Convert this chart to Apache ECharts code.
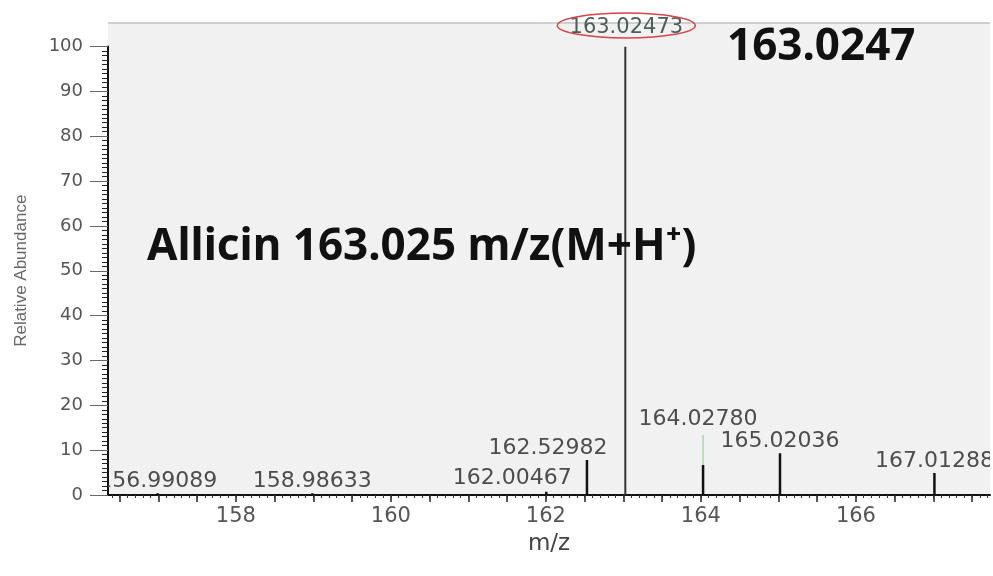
<!DOCTYPE html>
<html><head><meta charset="utf-8">
<script src="https://cdn.jsdelivr.net/npm/echarts@6/dist/echarts.min.js"></script>
<style>html,body{margin:0;padding:0;background:#fff}#c{width:993px;height:576px}</style>
</head><body><div id="c"></div>
<script>
// ---- data ----
const peakMz = [156.99089, 158.98633, 162.00467, 162.52982, 163.02473, 164.02780, 165.02036, 167.01288];
const peakAbundance = [0.4, 0.4, 0.7, 7.8, 100, 6.7, 9.3, 4.9];
const peakLabels = ["156.99089", "158.98633", "162.00467", "162.52982", "163.02473", "164.02780", "165.02036", "167.01288"];
const xTickLabels = [158, 160, 162, 164, 166];
const yTickLabels = [0, 10, 20, 30, 40, 50, 60, 70, 80, 90, 100];
const xRange = [156.35, 167.73];
const yRange = [0, 100];
const xAxisTitle = "m/z";
const yAxisTitle = "Relative Abundance";
const annotationMain = "Allicin 163.025 m/z(M+H\u207A)";
const annotationPeak = "163.0247";

// ---- style (label nudges in px, by peak index) ----
const labelNudge = {2: [-34, -2], 3: [-39, 0], 4: [0, -9], 5: [-5, -34]};
const connectorPeaks = [5];
const topIdx = peakAbundance.indexOf(Math.max(...peakAbundance));

const midTicks = [], smallTicks = [];
for (let k = Math.ceil(xRange[0] * 2); k <= Math.floor(xRange[1] * 2); k++) midTicks.push(k / 2);
for (let k = Math.ceil(xRange[0] * 10); k <= Math.floor(xRange[1] * 10); k++) smallTicks.push(+(k / 10).toFixed(1));

const peakData = peakMz.map((m, i) => [m, peakAbundance[i], i]);

const chart = echarts.init(document.getElementById('c'), null, {renderer: 'canvas'});
const labelFont = {fontFamily: '"DejaVu Sans", sans-serif', fontSize: 22};

chart.setOption({
  animation: false,
  backgroundColor: '#ffffff',
  grid: {left: 108, right: 3, top: 46.5, bottom: 81},
  graphic: {elements: [
    {type: 'rect', z: -10, silent: true, shape: {x: 108, y: 23, width: 882, height: 472}, style: {fill: '#f1f1f1'}},
    {type: 'line', z: -9, silent: true, shape: {x1: 108, y1: 23, x2: 990, y2: 23}, style: {stroke: '#cfcfcf', lineWidth: 2}},
    {type: 'text', z: 50, left: 147, top: 225, style: {text: annotationMain, fontFamily: '"Noto Sans", sans-serif', fontWeight: 'bold', fontSize: 44, fill: '#111'}},
    {type: 'text', z: 50, left: 727, top: 25, style: {text: annotationPeak, fontFamily: '"Noto Sans", sans-serif', fontWeight: 'bold', fontSize: 44, fill: '#111'}}
  ]},
  xAxis: [{
    type: 'value', min: xRange[0], max: xRange[1],
    name: xAxisTitle, nameLocation: 'middle', nameGap: 38,
    nameTextStyle: {fontFamily: '"DejaVu Sans", sans-serif', fontSize: 23, color: '#444'},
    axisLine: {lineStyle: {color: '#111', width: 2}},
    axisTick: {customValues: midTicks, length: 7, lineStyle: {color: '#222', width: 1.5}},
    axisLabel: {customValues: xTickLabels, margin: 11, color: '#555', fontFamily: '"DejaVu Sans", sans-serif', fontSize: 21},
    splitLine: {show: false}
  }, {
    type: 'value', min: xRange[0], max: xRange[1], position: 'bottom',
    axisLine: {show: false},
    axisTick: {customValues: smallTicks, length: 3, lineStyle: {color: '#333', width: 1}},
    axisLabel: {show: false}, splitLine: {show: false}
  }],
  yAxis: {
    type: 'value', min: yRange[0], max: yRange[1], interval: 10,
    name: yAxisTitle, nameLocation: 'middle', nameGap: 78, nameRotate: 90,
    nameTextStyle: {fontFamily: '"Liberation Sans", sans-serif', fontSize: 17, color: '#666'},
    axisLine: {show: true, lineStyle: {color: '#111', width: 2}},
    axisTick: {show: true, length: 18, lineStyle: {color: '#666', width: 1}},
    minorTick: {show: true, splitNumber: 10, length: 6, lineStyle: {color: '#222', width: 1}},
    axisLabel: {margin: 25, color: '#555', fontFamily: '"DejaVu Sans", sans-serif', fontSize: 18,
      formatter: v => yTickLabels.includes(v) ? String(v) : ''},
    splitLine: {show: false}, minorSplitLine: {show: false}
  },
  series: [{
    type: 'custom', name: 'peaks', clip: true, data: peakData,
    renderItem: (params, api) => {
      const i = api.value(2);
      const base = api.coord([api.value(0), 0]);
      const top = api.coord([api.value(0), api.value(1)]);
      const children = [{type: 'line', shape: {x1: base[0], y1: base[1], x2: top[0], y2: top[1]},
        style: {stroke: i === topIdx ? '#333' : '#111', lineWidth: i === topIdx ? 2 : 2.5}}];
      if (i !== topIdx) {
        const n = labelNudge[i] || [0, 0];
        if (connectorPeaks.includes(i)) {
          children.push({type: 'line', shape: {x1: top[0], y1: top[1], x2: top[0], y2: top[1] + n[1] + 4},
            style: {stroke: '#a6d9a6', lineWidth: 1.5}});
        }
        children.push({type: 'text', x: top[0] + n[0], y: top[1] + n[1] - 1,
          style: Object.assign({text: peakLabels[i], align: 'center', verticalAlign: 'bottom', fill: '#4d4d4d'}, labelFont)});
      }
      return {type: 'group', children};
    }
  }, {
    type: 'custom', name: 'topLabel', clip: false, data: [peakData[topIdx]],
    renderItem: (params, api) => {
      const i = api.value(2);
      const top = api.coord([api.value(0), api.value(1)]);
      const n = labelNudge[i] || [0, 0];
      const cx = top[0] + n[0] + 1, cy = top[1] + n[1] - 12;
      return {type: 'group', children: [
        {type: 'text', x: cx, y: top[1] + n[1] + 1,
          style: Object.assign({text: peakLabels[i], align: 'center', verticalAlign: 'bottom', fill: '#4b5e58'}, labelFont, {fontSize: 21})},
        {type: 'ellipse', shape: {cx: cx, cy: cy, rx: 69, ry: 12.5}, style: {fill: 'none', stroke: '#d9434a', lineWidth: 1.5}}
      ]};
    }
  }]
});
</script></body></html>
